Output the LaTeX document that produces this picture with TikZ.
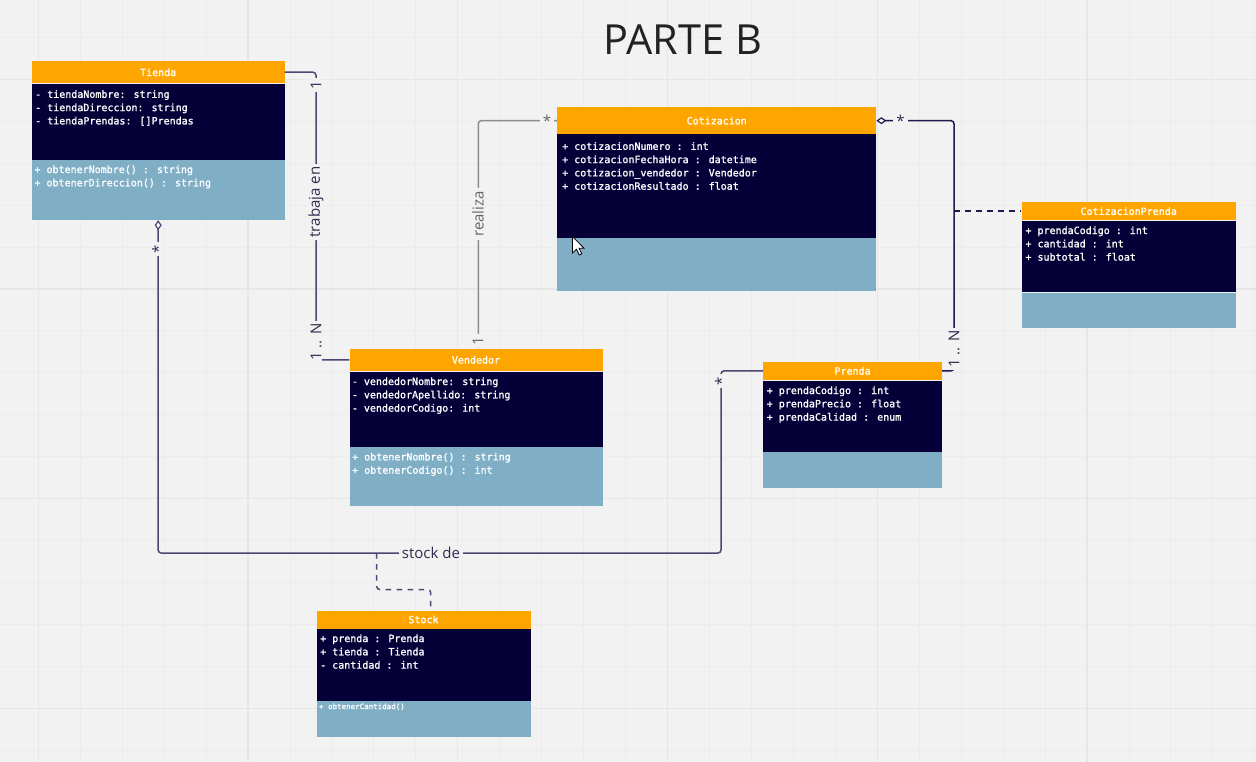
\documentclass[tikz,border=0pt]{standalone}
\usepackage{fontspec}
\setmainfont{Open Sans}
\newfontfamily\monof{DejaVu Sans Mono}[FakeBold=1.3]
\usetikzlibrary{arrows.meta,calc}
\definecolor{bg}{HTML}{F2F2F2}
\definecolor{gridminor}{HTML}{ECECEC}
\definecolor{gridmajor}{HTML}{E6E6E6}
\definecolor{orangeC}{HTML}{FFA500}
\definecolor{navyC}{HTML}{050038}
\definecolor{blueC}{HTML}{7FAEC5}
\definecolor{lineA}{HTML}{4A4872}
\definecolor{lineB}{HTML}{1E1A4C}
\definecolor{lineG}{HTML}{8C8C8C}
\definecolor{labelC}{HTML}{2E2B50}
\definecolor{labelG}{HTML}{666666}
\definecolor{titleC}{HTML}{222222}
\tikzset{
  hdr/.style={anchor=north west, fill=orangeC, text=white, inner sep=0pt,
    font=\monof\fontsize{10}{12}\selectfont},
  attrbox/.style={anchor=north west, fill=navyC, inner sep=0pt},
  methbox/.style={anchor=north west, fill=blueC, inner sep=0pt},
  txt/.style={anchor=north west, inner sep=0pt, align=left, text=white,
    font=\monof\fontsize{10}{13.3}\selectfont},
  conn/.style={draw=lineA, line width=1.5pt, rounded corners=3pt},
  dashconn/.style={draw=lineA, line width=1.5pt, rounded corners=3pt, dash pattern=on 5.5pt off 5.5pt},
  lbl/.style={font=\fontsize{15}{18}\selectfont, fill=bg, inner xsep=3pt, inner ysep=0.5pt, text=labelC},
  diastart/.style={{Diamond[fill=white,length=10pt,width=7pt,line width=1.2pt]}-},
}
\begin{document}
\begin{tikzpicture}[x=1pt,y=-1pt]
\fill[bg] (0,0) rectangle (1256,762);
\useasboundingbox (0,0) rectangle (1256,762);
% grid
\foreach \k in {0,...,29}{
  \pgfmathsetmacro\xx{38.3+\k*41.95}
  \draw[gridminor, line width=1pt] (\xx,0) -- (\xx,762);
}
\foreach \k in {0,...,17}{
  \pgfmathsetmacro\yy{37.3+\k*41.95}
  \draw[gridminor, line width=1pt] (0,\yy) -- (1256,\yy);
}
\foreach \k in {0,5,...,25}{
  \pgfmathsetmacro\xx{38.3+\k*41.95}
  \draw[gridmajor, line width=1.2pt] (\xx,0) -- (\xx,762);
}
\foreach \k in {1,6,11,16}{
  \pgfmathsetmacro\yy{37.3+\k*41.95}
  \draw[gridmajor, line width=1.2pt] (0,\yy) -- (1256,\yy);
}

% title
\node[font=\fontsize{41.5}{48}\selectfont, text=titleC] (title) at (683,40) {PARTE B};

% Tienda
\node[hdr, minimum width=252.6pt, minimum height=22.5pt] (tiendaH) at (31.7,60.8) {Tienda};
\node[attrbox, minimum width=252.6pt, minimum height=75.7pt] (tiendaA) at (tiendaH.south west) {};
\node[methbox, minimum width=252.6pt, minimum height=60pt] (tiendaM) at (tiendaA.south west) {};
\node[txt] (tiendaAT) at ([shift={(3.3,4.6)}]tiendaA.north west) {\strut- tiendaNombre: string\\- tiendaDireccion: string\\- tiendaPrendas: []Prendas};
\node[txt] (tiendaMT) at ([shift={(2.6,3.7)}]tiendaM.north west) {\strut+ obtenerNombre() : string\\+ obtenerDireccion() : string};

% Cotizacion
\node[hdr, minimum width=319pt, minimum height=26.4pt] (cotH) at (557,107.3) {Cotizacion};
\node[attrbox, minimum width=319pt, minimum height=103.6pt] (cotA) at (cotH.south west) {};
\node[methbox, minimum width=319pt, minimum height=52.4pt] (cotM) at (cotA.south west) {};
\node[txt] (cotAT) at ([shift={(5,6.2)}]cotA.north west) {\strut+ cotizacionNumero : int\\+ cotizacionFechaHora : datetime\\+ cotizacion\_vendedor : Vendedor\\+ cotizacionResultado : float};

% CotizacionPrenda
\node[hdr, minimum width=214.4pt, minimum height=18pt] (cpH) at (1021.3,202) {CotizacionPrenda};
\node[attrbox, minimum width=214.4pt, minimum height=71.7pt] (cpA) at (cpH.south west) {};
\node[methbox, minimum width=214.4pt, minimum height=35.6pt] (cpM) at (cpA.south west) {};
\node[txt] (cpAT) at ([shift={(4,4.1)}]cpA.north west) {\strut+ prendaCodigo : int\\+ cantidad : int\\+ subtotal : float};

% Vendedor
\node[hdr, minimum width=253pt, minimum height=22.7pt] (vendH) at (349.3,348.3) {Vendedor};
\node[attrbox, minimum width=253pt, minimum height=75pt] (vendA) at (vendH.south west) {};
\node[methbox, minimum width=253pt, minimum height=59.3pt] (vendM) at (vendA.south west) {};
\node[txt] (vendAT) at ([shift={(2.4,4.1)}]vendA.north west) {\strut- vendedorNombre: string\\- vendedorApellido: string\\- vendedorCodigo: int};
\node[txt] (vendMT) at ([shift={(2.7,4.1)}]vendM.north west) {\strut+ obtenerNombre() : string\\+ obtenerCodigo() : int};

% Prenda
\node[hdr, minimum width=178.7pt, minimum height=18.7pt] (prendaH) at (763,361.3) {Prenda};
\node[attrbox, minimum width=178.7pt, minimum height=71pt] (prendaA) at (prendaH.south west) {};
\node[methbox, minimum width=178.7pt, minimum height=36pt] (prendaM) at (prendaA.south west) {};
\node[txt] (prendaAT) at ([shift={(3.6,4.1)}]prendaA.north west) {\strut+ prendaCodigo : int\\+ prendaPrecio : float\\+ prendaCalidad : enum};

% Stock
\node[hdr, minimum width=214pt, minimum height=18pt] (stockH) at (316.3,610.3) {Stock};
\node[attrbox, minimum width=214pt, minimum height=71.7pt] (stockA) at (stockH.south west) {};
\node[methbox, minimum width=214pt, minimum height=36pt] (stockM) at (stockA.south west) {};
\node[txt] (stockAT) at ([shift={(3.7,3.8)}]stockA.north west) {\strut+ prenda : Prenda\\+ tienda : Tienda\\- cantidad : int};
\node[txt, font=\monof\fontsize{7.5}{9}\selectfont] (stockMT) at ([shift={(2.5,1.8)}]stockM.north west) {\strut+ obtenerCantidad()};

% cursor
\draw[black, fill=white, line width=0.8pt, line join=miter]
  (572.5,236.5) -- ++(0,16.5) -- ++(4,-3.7) -- ++(2.8,5.7) -- ++(2.5,-1.1) -- ++(-2.7,-5.6) -- ++(4.9,0) -- cycle;

% connectors
\coordinate (tvx) at (316,0);
\draw[conn] (tiendaH.east) -| (tvx |- vendH.west) -- (vendH.west);
\node[lbl, rotate=90] (l1a) at (316,85) {1};
\node[lbl, rotate=90] (l1b) at (316,202) {trabaja en};
\node[lbl, rotate=90] (l1c) at (316,342) {1 .. N};

\draw[conn, draw=lineG] ([xshift=2.3pt]vendH.north) |- (cotH.west);
\node[lbl, rotate=90, text=labelG] (l2a) at (478,341) {1};
\node[lbl, rotate=90, text=labelG] (l2b) at (478,214) {realiza};
\node[lbl, text=labelG] (l2c) at (547,120.5) {*};

\coordinate (cpx) at (954,0);
\draw[conn, draw=lineB, diastart] (cotH.east) -| (cpx |- prendaH.east) -- (prendaH.east);
\node[lbl] (l3a) at (900.5,120.5) {*};
\node[lbl, rotate=90] (l3b) at (954,349) {1 .. N};
\draw[dashconn, draw=lineB] (cpx |- cpH.west) -- (cpH.west);

\coordinate (sdx) at (721,553);
\draw[conn, diastart] (tiendaM.south) |- (sdx) |- (prendaH.west);
\node[lbl, rotate=90] (l4a) at (158,249) {*};
\node[lbl] (l4b) at (431,553) {stock de};
\node[lbl, rotate=90] (l4c) at (721,381) {*};
\coordinate (sdj) at (376.7,553);
\coordinate (sdk) at (430.7,589.5);
\draw[dashconn] (sdj) |- (sdk) -- (sdk |- stockH.north);
\end{tikzpicture}
\end{document}
